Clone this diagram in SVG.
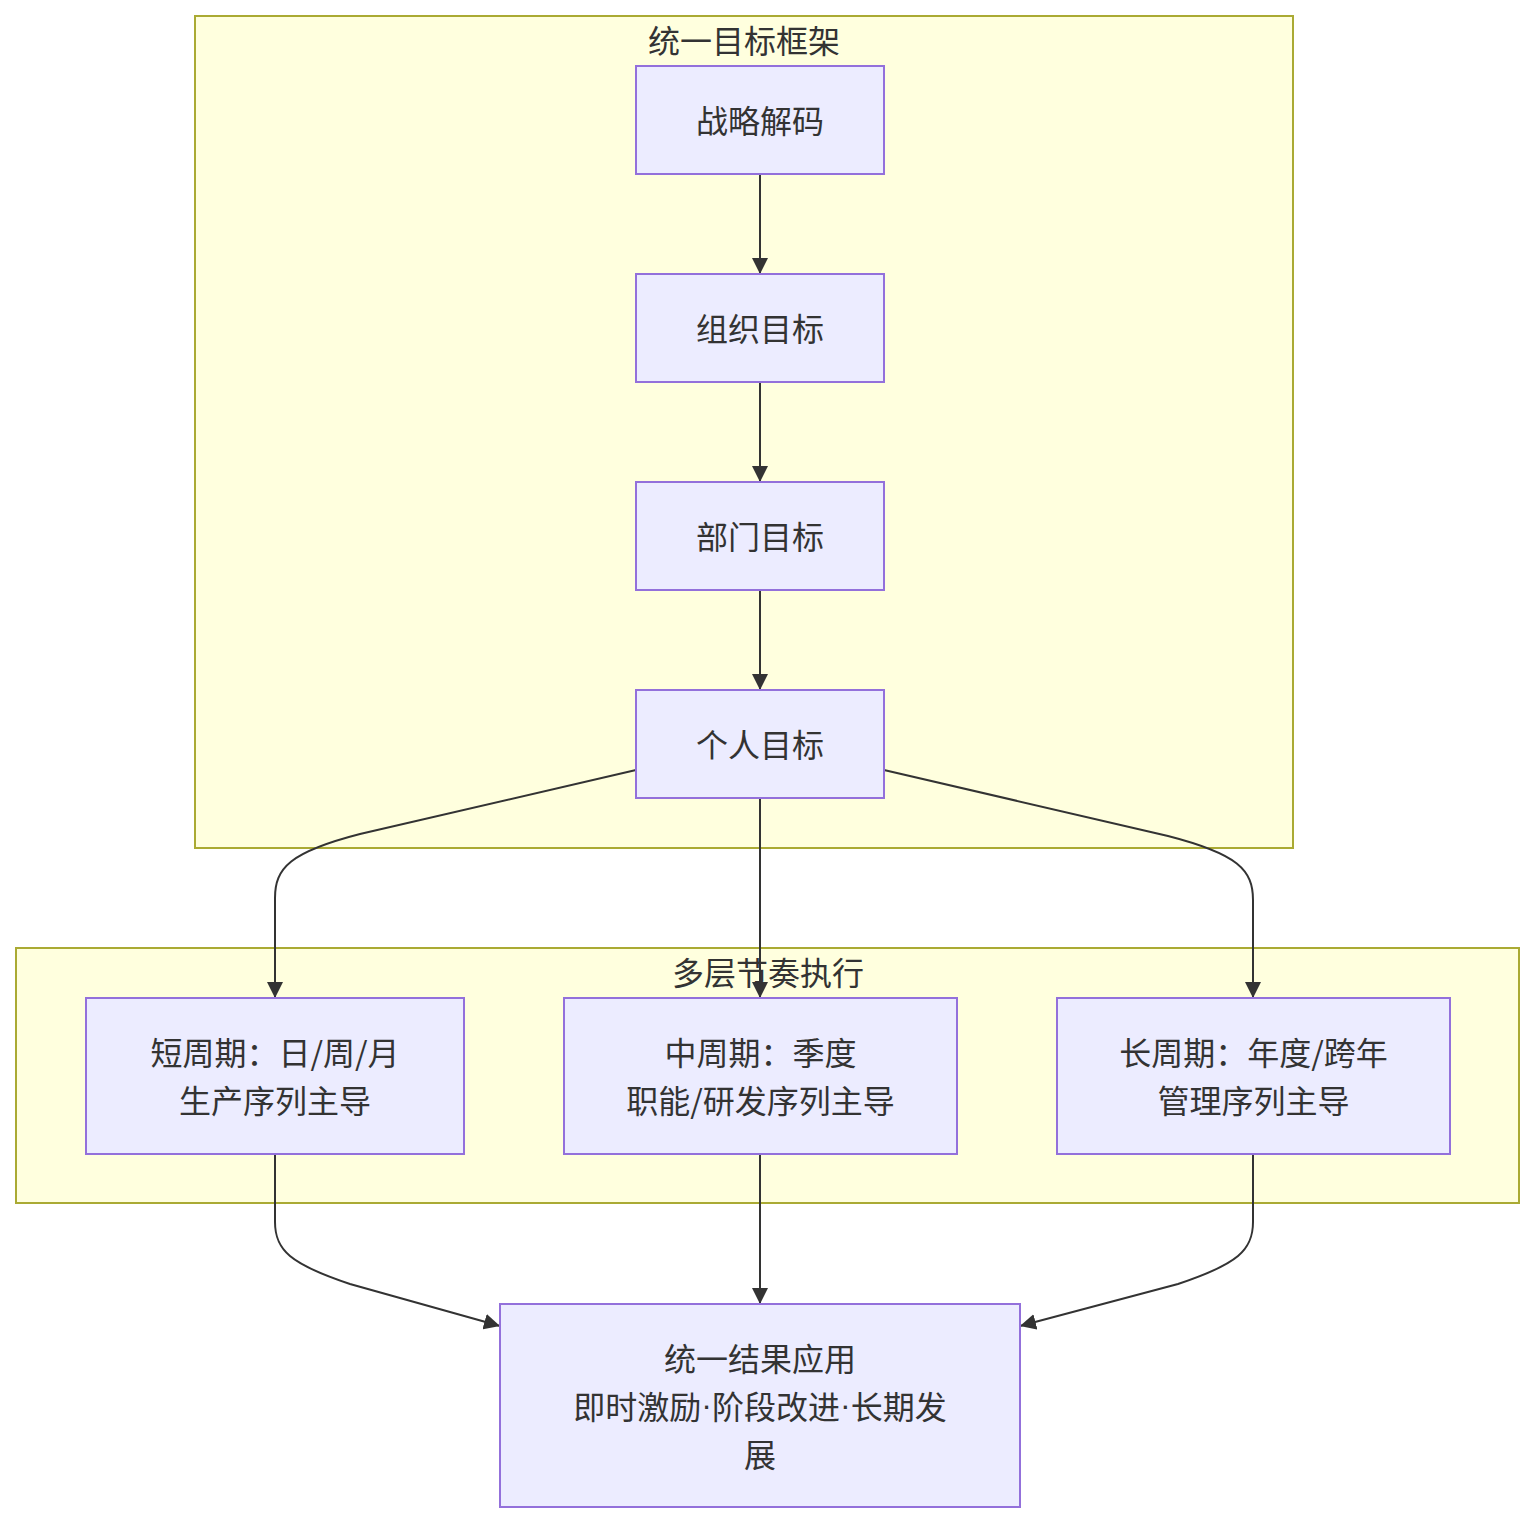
<svg xmlns="http://www.w3.org/2000/svg" width="1535" height="1524" viewBox="0 0 1535 1524">
<style>
.cluster{fill:#ffffde;stroke:#aaaa33;stroke-width:2}
.node rect{fill:#ececff;stroke:#9370db;stroke-width:2}
text{font-family:"Noto Sans CJK SC","Noto Sans",sans-serif;font-size:32px;fill:#333;text-anchor:middle;dominant-baseline:central}
.dot{font-family:"Liberation Sans",sans-serif}
.edge{fill:none;stroke:#333;stroke-width:2}
</style>
<defs>
<marker id="arrow" viewBox="0 0 10 10" refX="10" refY="5" markerUnits="userSpaceOnUse" markerWidth="16" markerHeight="16" orient="auto">
<path d="M0,0 L10,5 L0,10 z" fill="#333"/>
</marker>
</defs>
<rect width="1535" height="1524" fill="#ffffff"/>
<g id="cluster-framework">
<rect class="cluster" x="195" y="16" width="1098" height="832"/>
<text x="744" y="39">统一目标框架</text>
</g>
<g id="cluster-execution">
<rect class="cluster" x="16" y="948" width="1503" height="255"/>
<text x="768" y="971">多层节奏执行</text>
</g>
<g id="connectors">
<path class="edge" d="M760,174 L760,274" marker-end="url(#arrow)"/>
<path class="edge" d="M760,382 L760,482" marker-end="url(#arrow)"/>
<path class="edge" d="M760,590 L760,690" marker-end="url(#arrow)"/>
<path class="edge" d="M636,770 L360,834 C290,852 275,868 275,898 L275,998" marker-end="url(#arrow)"/>
<path class="edge" d="M760,798 L760,998" marker-end="url(#arrow)"/>
<path class="edge" d="M884,770 L1168,836 C1238,854 1253,870 1253,900 L1253,998" marker-end="url(#arrow)"/>
<path class="edge" d="M275,1154 L275,1222 C275,1250 290,1264 350,1284 L500,1326" marker-end="url(#arrow)"/>
<path class="edge" d="M760,1154 L760,1304" marker-end="url(#arrow)"/>
<path class="edge" d="M1253,1154 L1253,1222 C1253,1250 1238,1264 1178,1284 L1020,1326" marker-end="url(#arrow)"/>
</g>
<g id="node-strategy" class="node">
<rect x="636" y="66" width="248" height="108"/>
<text x="760" y="119">战略解码</text>
</g>
<g id="node-org" class="node">
<rect x="636" y="274" width="248" height="108"/>
<text x="760" y="327">组织目标</text>
</g>
<g id="node-dept" class="node">
<rect x="636" y="482" width="248" height="108"/>
<text x="760" y="535">部门目标</text>
</g>
<g id="node-personal" class="node">
<rect x="636" y="690" width="248" height="108"/>
<text x="760" y="743">个人目标</text>
</g>
<g id="node-short" class="node">
<rect x="86" y="998" width="378" height="156"/>
<text x="275" y="1051">短周期：日/周/月</text>
<text x="275" y="1099">生产序列主导</text>
</g>
<g id="node-mid" class="node">
<rect x="564" y="998" width="393" height="156"/>
<text x="760.5" y="1051">中周期：季度</text>
<text x="760.5" y="1099">职能/研发序列主导</text>
</g>
<g id="node-long" class="node">
<rect x="1057" y="998" width="393" height="156"/>
<text x="1253.5" y="1051">长周期：年度/跨年</text>
<text x="1253.5" y="1099">管理序列主导</text>
</g>
<g id="node-result" class="node">
<rect x="500" y="1304" width="520" height="203"/>
<text x="760" y="1357">统一结果应用</text>
<text x="760" y="1405">即时激励<tspan class="dot">·</tspan>阶段改进<tspan class="dot">·</tspan>长期发</text>
<text x="760" y="1453">展</text>
</g>
</svg>
